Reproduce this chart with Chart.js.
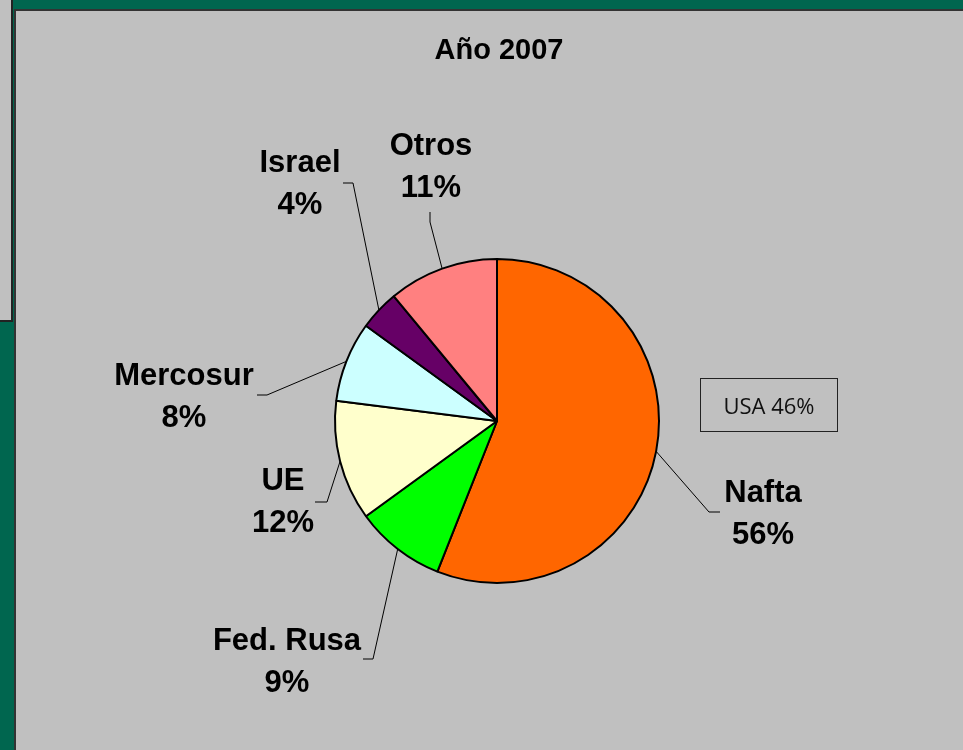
<!DOCTYPE html>
<html>
<head>
<meta charset="utf-8">
<script src="https://cdn.jsdelivr.net/npm/chart.js@4"></script>
<style>
  html, body { margin: 0; padding: 0; width: 963px; height: 750px; overflow: hidden; background: #00664f; }
  #side { position: absolute; left: -2px; top: -2px; width: 11px; height: 320px; background: #c0c0c0; border: 2px solid #222; }
  #panel { position: absolute; left: 14px; top: 9px; width: 1000px; height: 800px; background: #c0c0c0; border-left: 2px solid #333; border-top: 2px solid #333; }
  #wrap { position: absolute; left: 0; top: 0; width: 963px; height: 750px; }
</style>
</head>
<body>
<div id="side"></div>
<div id="panel"></div>
<div id="wrap"><canvas id="pieChart" width="963" height="750"></canvas></div>
<script>
// data
const regions = ['Nafta', 'Fed. Rusa', 'UE', 'Mercosur', 'Israel', 'Otros'];
const shares = [56, 9, 12, 8, 4, 11];
const sliceColors = ['#ff6600', '#00ff00', '#ffffcc', '#ccffff', '#660066', '#ff8080'];
const chartTitle = 'Año 2007';
const noteText = 'USA 46%';

// label layout: text centre x, first baseline y, elbow of leader, end of leader
const labelLayout = [
    { x: 763, y: 502, elbow: [709, 512], end: [720, 512] },
    { x: 287, y: 650, elbow: [373, 659], end: [363, 659] },
    { x: 283, y: 490, elbow: [327, 502], end: [315, 502] },
    { x: 184, y: 385, elbow: [267, 395], end: [257, 395] },
    { x: 300, y: 172, elbow: [353, 183], end: [343, 183] },
    { x: 431, y: 155, elbow: [430, 222], end: [430, 212] }
];

const pieLabels = {
    id: 'pieLabels',
    afterDraw(chart) {
        const ctx = chart.ctx;
        const meta = chart.getDatasetMeta(0);
        const total = shares.reduce((a, b) => a + b, 0);
        ctx.save();

        // title
        ctx.fillStyle = '#000';
        ctx.font = 'bold 29px "Liberation Sans", Arial, sans-serif';
        ctx.textAlign = 'center';
        ctx.textBaseline = 'alphabetic';
        ctx.fillText(chartTitle, 499, 59);

        meta.data.forEach((arc, i) => {
            const p = arc.getProps(['x', 'y', 'startAngle', 'endAngle', 'outerRadius'], true);
            const mid = (p.startAngle + p.endAngle) / 2;
            const sx = p.x + Math.cos(mid) * p.outerRadius;
            const sy = p.y + Math.sin(mid) * p.outerRadius;
            const lay = labelLayout[i];

            ctx.strokeStyle = '#000';
            ctx.lineWidth = 1;
            ctx.beginPath();
            ctx.moveTo(sx, sy);
            ctx.lineTo(lay.elbow[0], lay.elbow[1]);
            ctx.lineTo(lay.end[0], lay.end[1]);
            ctx.stroke();

            ctx.font = 'bold 31px "Liberation Sans", Arial, sans-serif';
            ctx.fillText(regions[i], lay.x, lay.y);
            ctx.fillText(Math.round(shares[i] / total * 100) + '%', lay.x, lay.y + 42);
        });

        // note box
        ctx.strokeStyle = '#222';
        ctx.lineWidth = 1;
        ctx.strokeRect(700.5, 378.5, 137, 53);
        ctx.fillStyle = '#111';
        ctx.font = '22px "Open Sans", sans-serif';
        ctx.fillText(noteText, 769, 414);

        ctx.restore();
    }
};

const ctx = document.getElementById('pieChart').getContext('2d');
const pieChart = new Chart(ctx, {
    type: 'pie',
    data: {
        labels: regions,
        datasets: [{
            data: shares,
            backgroundColor: sliceColors,
            borderColor: '#000',
            borderWidth: 2
        }]
    },
    options: {
        responsive: false,
        animation: false,
        radius: 162,
        layout: { padding: { left: 31, right: 0, top: 92, bottom: 0 } },
        plugins: {
            legend: { display: false },
            tooltip: { enabled: false },
            title: { display: false }
        }
    },
    plugins: [pieLabels]
});
</script>
</body>
</html>
